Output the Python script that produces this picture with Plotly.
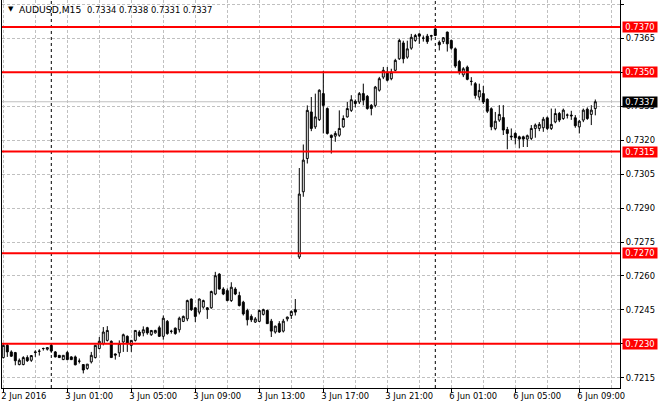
import plotly.graph_objects as go

# ---- data (AUDUSD M15) ----
opens = [0.72239,0.72293,0.72264,0.72261,0.72208,0.72208,0.72239,0.72227,0.72264,0.72267,
         0.72279,0.72276,0.72293,0.72264,0.72249,0.72230,0.72261,0.72242,0.72242,0.72223,
         0.72208,0.72191,0.72220,0.72239,0.72279,0.72301,0.72315,0.72311,0.72255,0.72260,
         0.72308,0.72333,0.72293,0.72315,0.72352,0.72348,0.72371,0.72340,0.72348,0.72371,
         0.72333,0.72399,0.72355,0.72369,0.72362,0.72399,0.72410,0.72498,0.72459,0.72440,
         0.72462,0.72459,0.72459,0.72520,0.72608,0.72542,0.72535,0.72491,0.72542,0.72513,
         0.72484,0.72447,0.72421,0.72396,0.72399,0.72430,0.72447,0.72400,0.72352,0.72389,
         0.72356,0.72410,0.72425,0.72451,0.72684,0.72972,0.73119,0.73325,0.73259,0.73291,
         0.73406,0.73340,0.73222,0.73218,0.73222,0.73259,0.73303,0.73332,0.73372,0.73369,
         0.73406,0.73394,0.73354,0.73354,0.73421,0.73479,0.73501,0.73472,0.73509,0.73560,
         0.73630,0.73567,0.73607,0.73641,0.73670,0.73651,0.73660,0.73660,0.73692,0.73633,
         0.73636,0.73678,0.73641,0.73604,0.73548,0.73489,0.73523,0.73460,0.73450,0.73391,
         0.73406,0.73381,0.73339,0.73251,0.73289,0.73300,0.73247,0.73218,0.73230,0.73215,
         0.73215,0.73205,0.73208,0.73252,0.73252,0.73255,0.73299,0.73252,0.73281,0.73318,
         0.73296,0.73311,0.73311,0.73299,0.73259,0.73289,0.73337,0.73314,0.73340]
highs = [0.72300,0.72300,0.72271,0.72264,0.72235,0.72245,0.72249,0.72249,0.72271,0.72276,
         0.72283,0.72283,0.72300,0.72268,0.72250,0.72250,0.72268,0.72245,0.72248,0.72235,
         0.72210,0.72210,0.72264,0.72293,0.72330,0.72374,0.72378,0.72315,0.72257,0.72315,
         0.72345,0.72337,0.72315,0.72360,0.72360,0.72377,0.72375,0.72360,0.72362,0.72380,
         0.72425,0.72405,0.72362,0.72372,0.72420,0.72425,0.72495,0.72500,0.72462,0.72500,
         0.72495,0.72462,0.72535,0.72618,0.72612,0.72550,0.72545,0.72572,0.72550,0.72530,
         0.72490,0.72455,0.72430,0.72418,0.72451,0.72455,0.72451,0.72410,0.72380,0.72400,
         0.72410,0.72420,0.72447,0.72498,0.73077,0.73181,0.73354,0.73391,0.73406,0.73425,
         0.73506,0.73345,0.73225,0.73240,0.73332,0.73310,0.73369,0.73399,0.73380,0.73413,
         0.73450,0.73400,0.73360,0.73440,0.73480,0.73524,0.73524,0.73516,0.73560,0.73648,
         0.73640,0.73640,0.73670,0.73670,0.73673,0.73663,0.73670,0.73666,0.73700,0.73641,
         0.73656,0.73680,0.73645,0.73610,0.73555,0.73523,0.73530,0.73479,0.73457,0.73450,
         0.73440,0.73385,0.73345,0.73325,0.73355,0.73355,0.73259,0.73252,0.73235,0.73220,
         0.73220,0.73225,0.73267,0.73274,0.73280,0.73303,0.73305,0.73340,0.73340,0.73325,
         0.73340,0.73318,0.73330,0.73311,0.73290,0.73340,0.73345,0.73355,0.73380]
lows = [0.72235,0.72242,0.72242,0.72205,0.72205,0.72205,0.72220,0.72220,0.72242,0.72248,
        0.72270,0.72270,0.72260,0.72240,0.72239,0.72228,0.72228,0.72228,0.72205,0.72213,
        0.72169,0.72185,0.72213,0.72235,0.72275,0.72293,0.72310,0.72239,0.72230,0.72242,
        0.72264,0.72264,0.72264,0.72310,0.72330,0.72333,0.72340,0.72335,0.72345,0.72330,
        0.72318,0.72340,0.72345,0.72340,0.72350,0.72396,0.72400,0.72445,0.72396,0.72430,
        0.72455,0.72410,0.72455,0.72515,0.72540,0.72515,0.72488,0.72485,0.72515,0.72465,
        0.72425,0.72381,0.72396,0.72392,0.72396,0.72425,0.72389,0.72330,0.72345,0.72348,
        0.72350,0.72399,0.72410,0.72425,0.72675,0.72950,0.73097,0.73240,0.73250,0.73285,
        0.73230,0.73225,0.73141,0.73193,0.73215,0.73255,0.73300,0.73325,0.73345,0.73360,
        0.73354,0.73335,0.73310,0.73345,0.73415,0.73470,0.73460,0.73465,0.73505,0.73555,
        0.73540,0.73560,0.73600,0.73635,0.73626,0.73636,0.73626,0.73641,0.73660,0.73597,
        0.73626,0.73592,0.73600,0.73520,0.73490,0.73479,0.73465,0.73442,0.73384,0.73376,
        0.73360,0.73320,0.73244,0.73244,0.73281,0.73223,0.73160,0.73200,0.73181,0.73164,
        0.73170,0.73170,0.73200,0.73211,0.73240,0.73237,0.73245,0.73245,0.73275,0.73280,
        0.73290,0.73296,0.73290,0.73255,0.73230,0.73280,0.73290,0.73267,0.73310]
closes = [0.72293,0.72264,0.72245,0.72225,0.72227,0.72239,0.72225,0.72248,0.72262,0.72267,
          0.72279,0.72283,0.72268,0.72242,0.72239,0.72249,0.72230,0.72230,0.72207,0.72223,
          0.72184,0.72210,0.72249,0.72293,0.72311,0.72352,0.72359,0.72239,0.72250,0.72301,
          0.72340,0.72301,0.72315,0.72359,0.72337,0.72362,0.72348,0.72359,0.72359,0.72333,
          0.72413,0.72345,0.72355,0.72345,0.72413,0.72421,0.72491,0.72451,0.72421,0.72498,
          0.72491,0.72451,0.72531,0.72601,0.72542,0.72520,0.72491,0.72550,0.72520,0.72469,
          0.72432,0.72406,0.72406,0.72410,0.72447,0.72451,0.72389,0.72356,0.72378,0.72352,
          0.72400,0.72418,0.72443,0.72440,0.72962,0.73112,0.73332,0.73252,0.73303,0.73421,
          0.73354,0.73230,0.73212,0.73230,0.73252,0.73296,0.73340,0.73379,0.73362,0.73406,
          0.73377,0.73340,0.73340,0.73435,0.73472,0.73509,0.73465,0.73501,0.73553,0.73641,
          0.73560,0.73604,0.73655,0.73663,0.73660,0.73651,0.73636,0.73662,0.73663,0.73622,
          0.73653,0.73626,0.73607,0.73528,0.73501,0.73516,0.73469,0.73460,0.73398,0.73420,
          0.73369,0.73328,0.73259,0.73284,0.73314,0.73245,0.73230,0.73215,0.73211,0.73205,
          0.73205,0.73220,0.73252,0.73267,0.73270,0.73293,0.73252,0.73270,0.73318,0.73289,
          0.73333,0.73311,0.73308,0.73264,0.73284,0.73333,0.73296,0.73333,0.73370]

tick_pos = [0, 16, 32, 48, 64, 80, 96, 112, 128, 144]
tick_labels = ["2 Jun 2016", "3 Jun 01:00", "3 Jun 05:00", "3 Jun 09:00", "3 Jun 13:00",
               "3 Jun 17:00", "3 Jun 21:00", "6 Jun 01:00", "6 Jun 05:00", "6 Jun 09:00"]
grid_pos = [8 + 16 * k for k in range(10)]
separators = [12, 108]
levels = [0.7370, 0.7350, 0.7315, 0.7270, 0.7230]
bid = 0.7337
y_ticks = [round(0.7215 + 0.0015 * k, 4) for k in range(12)]
symbol = "AUDUSD,M15"
last_ohlc = [0.7334, 0.7338, 0.7331, 0.7337]

FONT = "DejaVu Sans"
FS = 8.4
GRID = "#c0c0c0"

x = list(range(len(opens)))
fig = go.Figure(go.Candlestick(
    x=x, open=opens, high=highs, low=lows, close=closes,
    increasing=dict(line=dict(color="black", width=1), fillcolor="white"),
    decreasing=dict(line=dict(color="black", width=1), fillcolor="black"),
    whiskerwidth=0, hoverinfo="skip", showlegend=False,
))

shapes = []
for s in separators:
    shapes.append(dict(type="line", xref="x", yref="paper", x0=s, x1=s, y0=0, y1=1,
                       line=dict(color="black", width=1, dash="3px,3px"), layer="between"))
shapes.append(dict(type="line", xref="paper", yref="y", x0=0, x1=1, y0=bid, y1=bid,
                   line=dict(color=GRID, width=1), layer="between"))
for lv in levels:
    shapes.append(dict(type="line", xref="paper", yref="y", x0=0, x1=1, y0=lv, y1=lv,
                       line=dict(color="#ff0000", width=2), layer="above"))

annotations = []
for lv in levels:
    annotations.append(dict(xref="paper", yref="y", x=1, y=lv, xanchor="left", yanchor="middle",
                            xshift=2, text=f"{lv:.4f}", showarrow=False, bgcolor="#ff0000",
                            font=dict(family=FONT, size=FS, color="white"),
                            width=34, height=10, borderpad=0, align="center"))
annotations.append(dict(xref="paper", yref="y", x=1, y=bid, xanchor="left", yanchor="middle",
                        xshift=2, text=f"{bid:.4f}", showarrow=False, bgcolor="black",
                        font=dict(family=FONT, size=FS, color="white"),
                        width=34, height=10, borderpad=0, align="center"))
annotations.append(dict(xref="paper", yref="paper", x=0, y=1, xanchor="left", yanchor="top",
                        xshift=15, yshift=-2, text=symbol, showarrow=False,
                        font=dict(family=FONT, size=9.2, color="black")))
annotations.append(dict(xref="paper", yref="paper", x=0, y=1, xanchor="left", yanchor="top",
                        xshift=83, yshift=-3, text=" ".join(f"{v:.4f}" for v in last_ohlc),
                        showarrow=False, font=dict(family=FONT, size=FS, color="black")))
annotations.append(dict(xref="paper", yref="paper", x=0, y=1, xanchor="left", yanchor="top",
                        xshift=4, yshift=-3, text="\u25bc", showarrow=False,
                        font=dict(family=FONT, size=7, color="black")))

fig.update_layout(
    width=660, height=410,
    margin=dict(l=2, r=40, t=0, b=22),
    paper_bgcolor="white", plot_bgcolor="white",
    shapes=shapes, annotations=annotations,
    font=dict(family=FONT, size=FS, color="black"),
    xaxis=dict(
        range=[-0.325, 154.175], rangeslider=dict(visible=False),
        tickmode="array", tickvals=tick_pos, ticktext=tick_labels,
        ticks="outside", ticklen=4, tickcolor="black", ticklabelposition="outside right",
        ticklabelshift=-3,
        showline=True, linecolor="black", linewidth=1, mirror=False,
        showgrid=True, gridcolor=GRID, griddash="3px,2px", gridwidth=1,
        minor=dict(tickvals=grid_pos, showgrid=True, gridcolor=GRID, griddash="3px,2px", ticks=""),
        zeroline=False, fixedrange=True,
    ),
    yaxis=dict(
        side="right", range=[0.721045, 0.738199],
        tickmode="array", tickvals=y_ticks, ticktext=[f"{v:.4f}" for v in y_ticks],
        ticks="outside", ticklen=3, tickcolor="black",
        showline=True, linecolor="black", linewidth=1, mirror=True,
        showgrid=True, gridcolor=GRID, griddash="3px,2px", gridwidth=1,
        zeroline=False, fixedrange=True,
    ),
)

fig.write_html("out.html", config={"displayModeBar": False},
               post_script="document.body.style.margin='0';document.body.style.overflow='hidden';")
